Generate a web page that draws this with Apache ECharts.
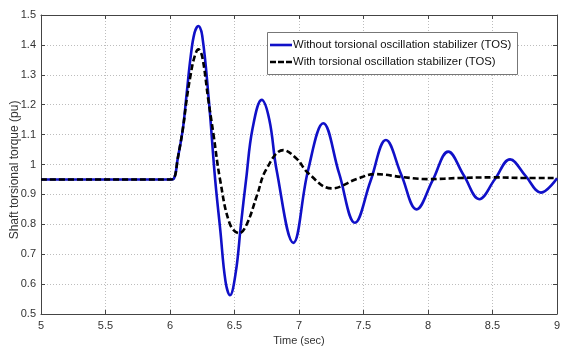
<!DOCTYPE html>
<html><head><meta charset="utf-8">
<script src="https://cdn.jsdelivr.net/npm/echarts@6/dist/echarts.min.js"></script>
<style>html,body{margin:0;padding:0;background:#fff}#c{width:561px;height:347px}</style>
</head><body><div id="c"></div>
<script>
const seriesNames = ['Without torsional oscillation stabilizer (TOS)', 'With torsional oscillation stabilizer (TOS)'];
const withoutTOS = [
  [5.0,0.95],[5.5,0.95],[6.0,0.95],[6.03,0.953],[6.06,1.02],[6.10,1.12],[6.13,1.24],[6.16,1.36],[6.19,1.44],[6.22,1.463],
  [6.25,1.43],[6.30,1.22],[6.35,0.95],[6.39,0.78],[6.43,0.61],[6.465,0.563],[6.51,0.64],[6.55,0.80],[6.59,0.95],
  [6.64,1.12],[6.711,1.216],[6.77,1.15],[6.827,0.98],[6.956,0.738],[7.07,0.98],[7.188,1.138],[7.311,0.97],
  [7.434,0.805],[7.554,0.944],[7.674,1.082],[7.793,0.966],[7.912,0.850],[8.035,0.946],[8.157,1.043],
  [8.278,0.963],[8.398,0.884],[8.517,0.95],[8.636,1.017],[8.756,0.962],[8.876,0.906],[9.0,0.954]
];
const withTOS = [
  [5.0,0.95],[5.5,0.95],[6.0,0.95],[6.03,0.953],[6.06,1.02],[6.10,1.12],[6.13,1.22],[6.16,1.30],[6.19,1.36],[6.22,1.385],
  [6.25,1.36],[6.297,1.216],[6.336,1.104],[6.388,0.95],[6.465,0.80],[6.537,0.77],[6.595,0.80],[6.677,0.90],
  [6.744,0.982],[6.878,1.048],[6.98,1.02],[7.072,0.971],[7.253,0.920],[7.45,0.952],[7.59,0.968],[7.8,0.958],
  [8.0,0.951],[8.25,0.955],[8.5,0.957],[8.75,0.955],[9.0,0.955]
];
const xTicks = {min:5, max:9, step:0.5};
const yTicks = {min:0.5, max:1.5, step:0.1};
const xName = 'Time (sec)';
const yName = 'Shaft torsional torque (pu)';

const font = 'Liberation Sans, Arial, sans-serif';
const blue = '#1010c8';
const chart = echarts.init(document.getElementById('c'), null, {renderer:'canvas'});
const axColor = '#444';
const split = {show:true, lineStyle:{color:'#bdbdbd', type:[1,2], width:1}};
const gridBox = {left:41, right:4, top:15, bottom:33};
chart.setOption({
  animation:false,
  backgroundColor:'#fff',
  grid:Object.assign({containLabel:false, outerBoundsMode:'none'}, gridBox),
  xAxis:[{
    type:'value', min:xTicks.min, max:xTicks.max, interval:xTicks.step,
    name:xName, nameLocation:'middle', nameGap:18,
    nameTextStyle:{fontFamily:font, fontSize:11, color:'#333'},
    axisLine:{show:true, lineStyle:{color:axColor}},
    axisTick:{show:true, inside:true, length:4, lineStyle:{color:axColor}},
    axisLabel:{fontFamily:font, fontSize:11, color:'#333', margin:6},
    splitLine:split
  },{
    type:'value', position:'top', min:xTicks.min, max:xTicks.max, interval:xTicks.step,
    axisLine:{show:true, lineStyle:{color:axColor}},
    axisTick:{show:true, inside:true, length:4, lineStyle:{color:axColor}},
    axisLabel:{show:false}, splitLine:{show:false}
  }],
  yAxis:[{
    type:'value', min:yTicks.min, max:yTicks.max, interval:yTicks.step,
    axisLine:{show:true, lineStyle:{color:axColor}},
    axisTick:{show:true, inside:true, length:4, lineStyle:{color:axColor}},
    axisLabel:{fontFamily:font, fontSize:11, color:'#333', margin:5},
    splitLine:split
  },{
    type:'value', position:'right', min:yTicks.min, max:yTicks.max, interval:yTicks.step,
    axisLine:{show:true, lineStyle:{color:axColor}},
    axisTick:{show:true, inside:true, length:4, lineStyle:{color:axColor}},
    axisLabel:{show:false}, splitLine:{show:false}
  }],
  graphic:[
    {type:'text', x:15, y:170, rotation:Math.PI/2,
     style:{text:yName, font:'12px Liberation Sans', fill:'#333', textAlign:'center', textVerticalAlign:'middle'}, z:11},
    {type:'rect', left:267, top:32, shape:{width:250, height:42}, style:{fill:'#fff', stroke:'#777', lineWidth:1}, z:10},
    {type:'line', shape:{x1:270, y1:45, x2:292, y2:45}, style:{stroke:blue, lineWidth:2.6}, z:11},
    {type:'line', shape:{x1:270, y1:62, x2:292, y2:62}, style:{stroke:'#000', lineWidth:2.6, lineDash:[6,2]}, z:11},
    {type:'text', left:293, top:39, style:{text:seriesNames[0], font:'11.3px Liberation Sans', fill:'#111'}, z:11},
    {type:'text', left:293, top:56, style:{text:seriesNames[1], font:'11.3px Liberation Sans', fill:'#111'}, z:11}
  ],
  series:[{
    name:seriesNames[0], type:'line', data:withoutTOS, smooth:0.4, showSymbol:false, symbol:'none',
    lineStyle:{color:blue, width:2.6}, itemStyle:{color:blue}, z:2
  },{
    name:seriesNames[1], type:'line', data:withTOS, smooth:0.4, showSymbol:false, symbol:'none',
    lineStyle:{color:'#000', width:2.6, type:[6,3]}, itemStyle:{color:'#000'}, z:3
  }]
});
</script></body></html>
